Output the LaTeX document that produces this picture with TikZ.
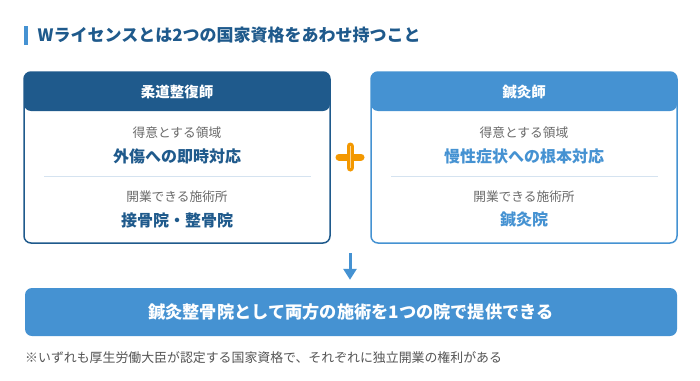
\documentclass[tikz,border=0pt]{standalone}
\usepackage{fontspec}
\setmainfont{Noto Sans CJK JP}
\usetikzlibrary{arrows.meta}
\definecolor{dkblue}{HTML}{1F5A8C}
\definecolor{ltblue}{HTML}{4592D2}
\definecolor{orng}{HTML}{F39800}
\definecolor{txtgray}{HTML}{6A6A6A}
\definecolor{notegray}{HTML}{555555}
\definecolor{divline}{HTML}{D5E3F0}
\tikzset{
  card/.style={draw=#1, line width=1.5pt, fill=white, rounded corners=7pt,
    minimum width=306pt, minimum height=171pt, inner sep=0pt,
    path picture={\fill[#1] (path picture bounding box.north west) rectangle ([yshift=-39pt]path picture bounding box.north east);}},
  headtxt/.style={text=white, font=\fontsize{14.5}{14.5}\selectfont\bfseries},
  labeltxt/.style={text=txtgray, font=\fontsize{12.7}{12.7}\selectfont},
  valtxt/.style={text=#1, font=\fontsize{16}{16}\selectfont\bfseries},
  divider/.style={draw=divline, line width=0.8pt},
  resultbox/.style={fill=ltblue, rounded corners=7pt, minimum width=652pt, minimum height=48pt, inner sep=0pt,
    text=white, font=\fontsize{17.2}{17.2}\selectfont\bfseries},
  arr/.style={draw=ltblue, line width=3pt, -{Triangle[width=13pt,length=11pt]}},
  plusbar/.style={draw=orng, line width=7pt, line cap=round},
}
\begin{document}
\begin{tikzpicture}[x=1pt,y=-1pt]
\useasboundingbox[fill=white] (0,0) rectangle (700,380);
% title
\fill[ltblue] (24,26) rectangle (28,45);
\node[anchor=west, inner sep=0pt, text=dkblue, font=\fontsize{17}{17}\selectfont\bfseries] (title) at (37.5,35.5) {Wライセンスとは2つの国家資格をあわせ持つこと};
% left card
\node[card=dkblue] (jusei) at (177,157.5) {};
\node[headtxt] (jhead) at (177,92) {柔道整復師};
\node[labeltxt] (jl1) at (177,133) {得意とする領域};
\node[valtxt=dkblue] (jv1) at (177,156.5) {外傷への即時対応};
\coordinate (jd1) at (44,176);
\coordinate (jd2) at (311,176);
\draw[divider] (jd1) -- (jd2);
\node[labeltxt] (jl2) at (177,197) {開業できる施術所};
\node[valtxt=dkblue] (jv2) at (177,220) {接骨院・整骨院};
% right card
\node[card=ltblue] (shin) at (524,157.5) {};
\node[headtxt] (shead) at (524,92) {鍼灸師};
\node[labeltxt] (sl1) at (524,133) {得意とする領域};
\node[valtxt=ltblue] (sv1) at (524,156.5) {慢性症状への根本対応};
\coordinate (sd1) at (391,176);
\coordinate (sd2) at (658,176);
\draw[divider] (sd1) -- (sd2);
\node[labeltxt] (sl2) at (524,197) {開業できる施術所};
\node[valtxt=ltblue] (sv2) at (524,220) {鍼灸院};
% plus
\coordinate (pl) at (339,157);
\coordinate (pr) at (361,157);
\coordinate (pt) at (350,146);
\coordinate (pb) at (350,168);
\draw[plusbar] (pl) -- (pr);
\draw[plusbar] (pt) -- (pb);
\draw[white, line width=0.4pt, opacity=0.6] (pt) -- (pb);
% result
\node[resultbox] (res) at (351,312) {鍼灸整骨院として両方の施術を1つの院で提供できる};
\coordinate (atop) at (350,253);
\draw[arr] (atop) -- ([yshift=8pt]res.north -| atop);
% note
\node[anchor=west, inner sep=0pt, text=notegray, font=\fontsize{12.9}{12.9}\selectfont] (note) at (25,358) {※いずれも厚生労働大臣が認定する国家資格で、それぞれに独立開業の権利がある};
\end{tikzpicture}
\end{document}
